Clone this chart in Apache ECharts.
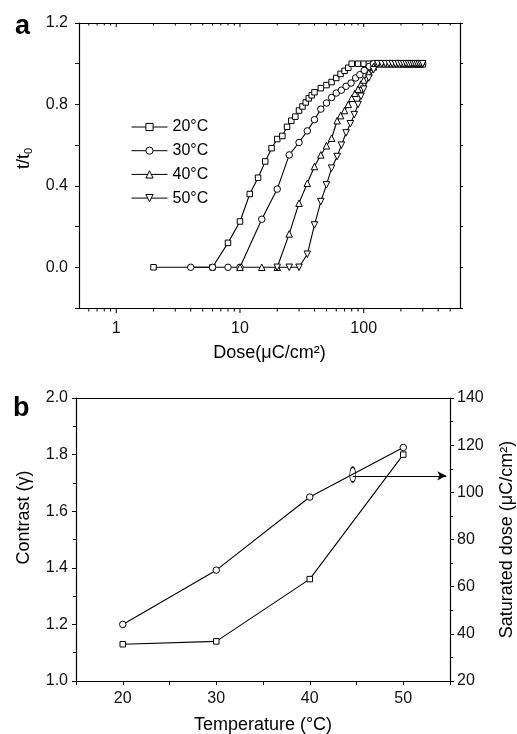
<!DOCTYPE html>
<html>
<head>
<meta charset="utf-8">
<script src="https://cdn.jsdelivr.net/npm/echarts@6/dist/echarts.min.js"></script>
<style>
html,body{margin:0;padding:0;background:#fff;}
#c{width:517px;height:734px;}
</style>
</head>
<body>
<div id="c"></div>
<script>
// ---------- Panel a data: normalized thickness t/t0 vs dose ----------
var seriesNames = ['20°C', '30°C', '40°C', '50°C'];

var dose20 = [2, 6, 8, 10, 12, 14, 16, 18, 20, 22, 24, 26, 28, 30, 32, 34, 36, 38, 40, 45, 50, 55, 60, 65, 70, 75, 80,
  90, 100, 110, 120, 130, 140, 150, 160, 170, 180, 190, 200, 210, 220, 230, 240, 250, 260, 270, 280, 290, 300];
var t20 = [0, 0, 0.12, 0.225, 0.36, 0.44, 0.52, 0.585, 0.63, 0.645, 0.69, 0.72, 0.74, 0.77, 0.79, 0.81, 0.83, 0.845, 0.86, 0.88, 0.895, 0.91, 0.93, 0.95, 0.965, 0.98, 1.0,
  1, 1, 1, 1, 1, 1, 1, 1, 1, 1, 1, 1, 1, 1, 1, 1, 1, 1, 1, 1, 1, 1];

var dose30 = [4, 6, 8, 10, 15, 20, 25, 30, 35, 40, 45, 50, 55, 60, 66, 72, 79, 86, 93, 101, 111, 120,
  130, 140, 150, 160, 170, 180, 190, 200, 210, 220, 230, 240, 250, 260, 270, 280, 290, 300];
var t30 = [0, 0, 0, 0, 0.236, 0.384, 0.552, 0.613, 0.67, 0.725, 0.777, 0.807, 0.834, 0.856, 0.87, 0.889, 0.905, 0.93, 0.946, 0.967, 0.987, 1.0,
  1, 1, 1, 1, 1, 1, 1, 1, 1, 1, 1, 1, 1, 1, 1, 1, 1, 1];

var dose40 = [10, 15, 20, 25, 30, 35, 40, 45, 50, 55, 61, 65, 70, 75, 80, 85, 90, 95, 100, 110, 120, 130,
  140, 150, 160, 170, 180, 190, 200, 210, 220, 230, 240, 250, 260, 270, 280, 290, 300];
var t40 = [0, 0, 0, 0.164, 0.315, 0.413, 0.495, 0.552, 0.597, 0.634, 0.72, 0.745, 0.77, 0.80, 0.83, 0.855, 0.875, 0.9, 0.92, 0.955, 0.985, 1.0,
  1, 1, 1, 1, 1, 1, 1, 1, 1, 1, 1, 1, 1, 1, 1, 1, 1];

var dose50 = [20, 25, 30, 35, 40, 45, 50, 55, 61, 66, 72, 78, 84, 90, 95, 100, 110, 120, 130,
  140, 150, 160, 170, 180, 190, 200, 210, 220, 230, 240, 250, 260, 270, 280, 290, 300];
var t50 = [0, 0, 0, 0.064, 0.208, 0.323, 0.405, 0.487, 0.544, 0.6, 0.66, 0.705, 0.75, 0.80, 0.84, 0.875, 0.93, 0.97, 1.0,
  1, 1, 1, 1, 1, 1, 1, 1, 1, 1, 1, 1, 1, 1, 1, 1, 1];

// log-axis tick marks (decades and sub-decades)
var doseTicks = [0.6, 0.7, 0.8, 0.9, 1, 2, 3, 4, 5, 6, 7, 8, 9, 10, 20, 30, 40, 50, 60, 70, 80, 90, 100, 200, 300, 400, 500];

// ---------- Panel b data ----------
var temps = [20, 30, 40, 50];
var contrast = [1.13, 1.14, 1.36, 1.80];
var satDose = [44, 67, 98, 119];
// arrow marking the saturated-dose curve -> right axis
var arrowFrom = [44.6, 107];
var arrowTo = [54.6, 107];

// ---------- build ----------
function zip(a, b) { var r = []; for (var i = 0; i < a.length; i++) r.push([a[i], b[i]]); return r; }
var FONT = '"Liberation Sans", Arial, Helvetica, sans-serif';
var black = '#000';
var lblColor = '#111';

var chart = echarts.init(document.getElementById('c'), null, {renderer: 'canvas'});

function lineSeries(name, data, symbol, rotate) {
  return {
    type: 'line', name: name, xAxisIndex: 0, yAxisIndex: 0, data: data,
    symbol: symbol, symbolSize: symbol === 'rect' ? 5.5 : 6.5, symbolRotate: rotate || 0,
    itemStyle: {color: '#fff', borderColor: black, borderWidth: 1},
    lineStyle: {color: black, width: 1.1},
    emphasis: {disabled: true}, animation: false
  };
}

var option = {
  animation: false,
  textStyle: {fontFamily: FONT},
  title: [
    {text: 'a', left: 10, top: 8, textStyle: {fontSize: 27, fontWeight: 'bold', color: black, fontFamily: FONT}},
    {text: 'b', left: 8, top: 390, textStyle: {fontSize: 27, fontWeight: 'bold', color: black, fontFamily: FONT}}
  ],
  legend: {
    data: seriesNames, orient: 'vertical', left: 131, top: 119, padding: 0,
    itemWidth: 36, itemHeight: 9, itemGap: 7.7,
    lineStyle: {width: 1},
    itemStyle: {borderWidth: 1},
    textStyle: {fontSize: 16, color: black, fontFamily: FONT},
    selectedMode: false
  },
  grid: [
    {left: 79, top: 23, width: 381, height: 285, outerBoundsMode: 'none', containLabel: false},
    {left: 76, top: 398, width: 374, height: 283, outerBoundsMode: 'none', containLabel: false}
  ],
  xAxis: [
    {
      type: 'log', gridIndex: 0, min: 0.5, max: 600, logBase: 10,
      name: 'Dose(μC/cm²)', nameLocation: 'middle', nameGap: 36,
      nameTextStyle: {fontSize: 18, color: black},
      axisLine: {onZero: false, lineStyle: {color: black, width: 1.2}},
      axisTick: {show: false}, splitLine: {show: false}, minorTick: {show: false},
      axisLabel: {
        fontSize: 16, color: lblColor, margin: 13,
        formatter: function (v) {
          var l = Math.log10(v);
          if (Math.abs(l - Math.round(l)) < 1e-6 && v >= 1 && v <= 100) return String(Math.round(v));
          return '';
        }
      }
    },
    {
      type: 'log', gridIndex: 0, min: 0.5, max: 600, position: 'top',
      axisLine: {onZero: false, lineStyle: {color: black, width: 1.2}},
      axisTick: {show: false}, axisLabel: {show: false}, splitLine: {show: false}
    },
    {
      type: 'value', gridIndex: 1, min: 15, max: 55, interval: 5,
      name: 'Temperature (°C)', nameLocation: 'middle', nameGap: 35,
      nameTextStyle: {fontSize: 18, color: black},
      axisLine: {onZero: false, lineStyle: {color: black, width: 1.2}},
      axisTick: {length: 4, lineStyle: {color: black}},
      splitLine: {show: false},
      axisLabel: {
        fontSize: 16, color: lblColor, margin: 10,
        formatter: function (v) { return (v % 10 === 0 && v > 15 && v < 55) ? String(v) : ''; }
      }
    },
    {
      type: 'value', gridIndex: 1, min: 15, max: 55, position: 'top',
      axisLine: {onZero: false, lineStyle: {color: black, width: 1.2}},
      axisTick: {show: false}, axisLabel: {show: false}, splitLine: {show: false}
    }
  ],
  yAxis: [
    {
      type: 'value', gridIndex: 0, min: -0.2, max: 1.2, interval: 0.2,
      name: '{a|t/t}{s|0}', nameLocation: 'middle', nameGap: 43,
      nameTextStyle: {
        padding: [0, 0, 0, 14],
        rich: {
          a: {fontSize: 18, color: black, fontFamily: FONT, lineHeight: 22},
          s: {fontSize: 11, color: black, fontFamily: FONT, verticalAlign: 'bottom', lineHeight: 12}
        }
      },
      axisLine: {onZero: false, lineStyle: {color: black, width: 1.2}},
      axisTick: {length: 4, lineStyle: {color: black}},
      splitLine: {show: false},
      axisLabel: {
        fontSize: 16, color: lblColor, margin: 11,
        formatter: function (v) {
          var k = Math.round(v * 10);
          return (k >= 0 && k % 4 === 0) ? (k / 10).toFixed(1) : '';
        }
      }
    },
    {
      type: 'value', gridIndex: 0, min: -0.2, max: 1.2, interval: 0.2, position: 'right',
      axisLine: {onZero: false, lineStyle: {color: black, width: 1.2}},
      axisTick: {length: 3, lineStyle: {color: black}},
      axisLabel: {show: false}, splitLine: {show: false}
    },
    {
      type: 'value', gridIndex: 1, min: 1.0, max: 2.0, interval: 0.2,
      name: 'Contrast (γ)', nameLocation: 'middle', nameGap: 43,
      nameTextStyle: {fontSize: 18, color: black, padding: [0, 0, 0, 44]},
      axisLine: {onZero: false, lineStyle: {color: black, width: 1.2}},
      axisTick: {length: 4, lineStyle: {color: black}},
      minorTick: {show: true, splitNumber: 2, length: 3, lineStyle: {color: black}},
      splitLine: {show: false}, minorSplitLine: {show: false},
      axisLabel: {fontSize: 16, color: lblColor, margin: 8, formatter: function (v) { return v.toFixed(1); }}
    },
    {
      type: 'value', gridIndex: 1, min: 20, max: 140, interval: 20, position: 'right',
      name: 'Saturated dose (μC/cm²)', nameLocation: 'middle', nameGap: 48,
      nameTextStyle: {fontSize: 18, color: black},
      axisLine: {onZero: false, lineStyle: {color: black, width: 1.2}},
      axisTick: {length: 4, lineStyle: {color: black}},
      minorTick: {show: true, splitNumber: 2, length: 3, lineStyle: {color: black}},
      splitLine: {show: false}, minorSplitLine: {show: false},
      axisLabel: {fontSize: 16, color: lblColor, margin: 7}
    }
  ],
  series: [
    // log-axis ticks for panel a (bottom outward, top inward)
    {
      type: 'custom', xAxisIndex: 0, yAxisIndex: 0, silent: true, clip: false, z: 5,
      data: doseTicks.map(function (d) { return [d]; }),
      renderItem: function (params, api) {
        var v = api.value(0);
        var l = Math.log10(v);
        var major = Math.abs(l - Math.round(l)) < 1e-6;
        var b = api.coord([v, -0.2]);
        var t = api.coord([v, 1.2]);
        var len = major ? 5 : 3.5;
        return {
          type: 'group', children: [
            {type: 'line', shape: {x1: b[0], y1: b[1], x2: b[0], y2: b[1] + len}, style: {stroke: black, lineWidth: 1}},
            {type: 'line', shape: {x1: t[0], y1: t[1], x2: t[0], y2: t[1] + len - 1}, style: {stroke: black, lineWidth: 1}}
          ]
        };
      }
    },
    lineSeries(seriesNames[0], zip(dose20, t20), 'rect'),
    lineSeries(seriesNames[1], zip(dose30, t30), 'circle'),
    lineSeries(seriesNames[2], zip(dose40, t40), 'triangle'),
    lineSeries(seriesNames[3], zip(dose50, t50), 'triangle', 180),
    // panel b
    {
      type: 'line', name: 'Contrast', xAxisIndex: 2, yAxisIndex: 2, data: zip(temps, contrast),
      symbol: 'rect', symbolSize: 5.5,
      itemStyle: {color: '#fff', borderColor: black, borderWidth: 1},
      lineStyle: {color: black, width: 1.1}, emphasis: {disabled: true}
    },
    {
      type: 'line', name: 'Saturated dose', xAxisIndex: 2, yAxisIndex: 3, data: zip(temps, satDose),
      symbol: 'circle', symbolSize: 6.5,
      itemStyle: {color: '#fff', borderColor: black, borderWidth: 1},
      lineStyle: {color: black, width: 1.1}, emphasis: {disabled: true},
      markLine: {
        silent: true, symbol: ['none', 'arrow'], symbolSize: [7, 9], precision: 3,
        label: {show: false},
        lineStyle: {color: black, width: 1, type: 'solid'},
        data: [[{coord: arrowFrom}, {coord: arrowTo}]]
      },
      markPoint: {
        silent: true, symbol: 'circle', symbolSize: [6, 15],
        itemStyle: {color: 'rgba(255,255,255,0)', borderColor: black, borderWidth: 1},
        label: {show: false},
        data: [{coord: [arrowFrom[0], arrowFrom[1] + 0.5]}]
      }
    }
  ]
};
chart.setOption(option);
</script>
</body>
</html>
